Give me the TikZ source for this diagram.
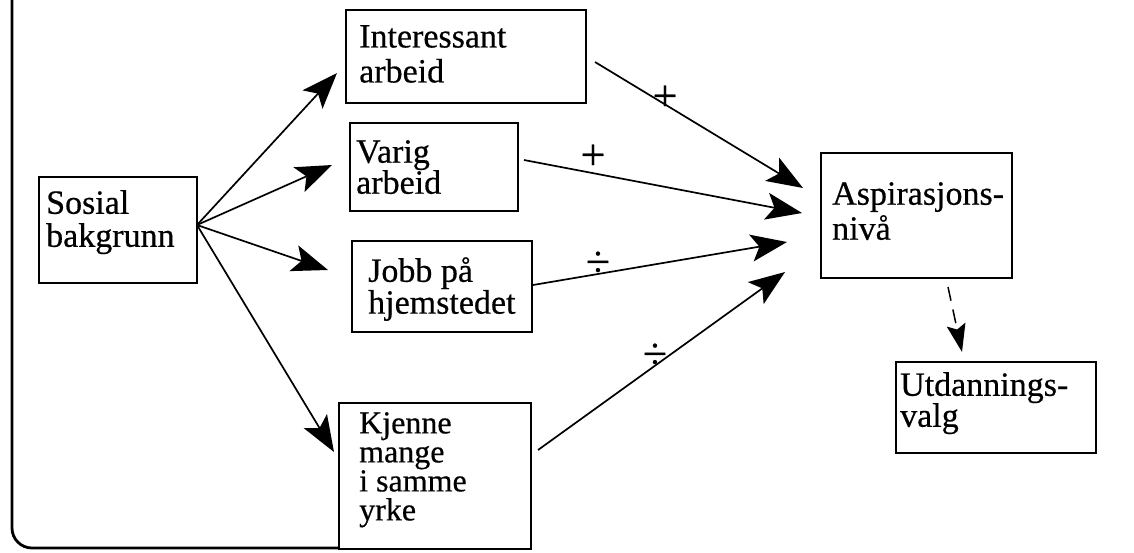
\documentclass[tikz,border=0pt]{standalone}
\usepackage{fontspec}
\setmainfont[FakeBold=0.5]{Liberation Serif}
\usetikzlibrary{arrows.meta,calc}
\begin{document}
\begin{tikzpicture}[x=1pt,y=-1pt,
  box/.style={draw, line width=1.6pt, inner sep=0pt, outer sep=0pt, anchor=north west},
  lbl/.style={font=\fontsize{34}{#1}\selectfont, align=left, inner sep=0pt, anchor=north west},
  lbl/.default=34,
  arr/.style={line width=1.7pt, -{Stealth[length=36pt,width=27pt,inset=8pt]}},
  dasharr/.style={line width=1.5pt, dash pattern=on 14pt off 9pt,
    -{Stealth[length=28pt,width=19pt,inset=5pt]}},
  sign/.style={font=\fontsize{44}{44}\selectfont, inner sep=0pt},
  frame/.style={line width=2.8pt, rounded corners=20pt}]
\useasboundingbox (0,0) rectangle (1134,552);

% outer frame (left and bottom edges)
\draw[frame] (12,-5) -- (12,548) -- (339,548);

% boxes
\node[box, minimum width=158pt, minimum height=106pt] (sos) at (39,177) {};
\node[box, minimum width=240pt, minimum height=93pt]  (int) at (346,10) {};
\node[box, minimum width=168pt, minimum height=88pt]  (var) at (350,123) {};
\node[box, minimum width=180pt, minimum height=91pt]  (job) at (352,241) {};
\node[box, minimum width=192pt, minimum height=146pt] (kje) at (339,403) {};
\node[box, minimum width=191pt, minimum height=125pt] (asp) at (821,153) {};
\node[box, minimum width=200pt, minimum height=91pt]  (utd) at (896,362) {};

% box texts
\node[lbl=33] (sos-t) at (46,190)  {Sosial\\bakgrunn};
\node[lbl=35] (int-t) at (359,25)  {Interessant\\arbeid};
\node[lbl=31] (var-t) at (356,140) {Varig\\arbeid};
\node[lbl=30] (job-t) at (368,257) {Jobb på\\hjemstedet};
\node[lbl, font=\fontsize{32}{29}\selectfont] (kje-t) at (359,412) {Kjenne\\mange\\i samme\\yrke};
\node[lbl=35] (asp-t) at (832,182) {Aspirasjons-\\nivå};
\node[lbl=31] (utd-t) at (900,372) {Utdannings-\\valg};

% connector end points
\coordinate (sos-out) at (197,225);
\coordinate (int-in)  at (337,73);
\coordinate (var-in)  at (332,165);
\coordinate (job-in)  at (328,270);
\coordinate (kje-in)  at (334,452);
\coordinate (int-out) at (595,62);
\coordinate (var-out) at (524,160);
\coordinate (job-out) at (533,285);
\coordinate (kje-out) at (538,450);
\coordinate (asp-in1) at (803,188);
\coordinate (asp-in2) at (802,213);
\coordinate (asp-in3) at (787,242);
\coordinate (asp-in4) at (785,272);
\coordinate (asp-out) at (948,287);
\coordinate (utd-in)  at (962,352);

% connectors
\draw[arr] (sos-out) -- (int-in);
\draw[arr] (sos-out) -- (var-in);
\draw[arr] (sos-out) -- (job-in);
\draw[arr] (sos-out) -- (kje-in);
\draw[arr] (int-out) -- (asp-in1);
\draw[arr] (var-out) -- (asp-in2);
\draw[arr] (job-out) -- (asp-in3);
\draw[arr] (kje-out) -- (asp-in4);
\draw[dasharr] (asp-out) -- (utd-in);

% signs on the connectors
\node[sign] (s1) at (665,98)  {+};
\node[sign] (s2) at (593,157) {+};
\node[sign] (s3) at (598,264) {÷};
\node[sign] (s4) at (655,356) {÷};
\end{tikzpicture}
\end{document}
